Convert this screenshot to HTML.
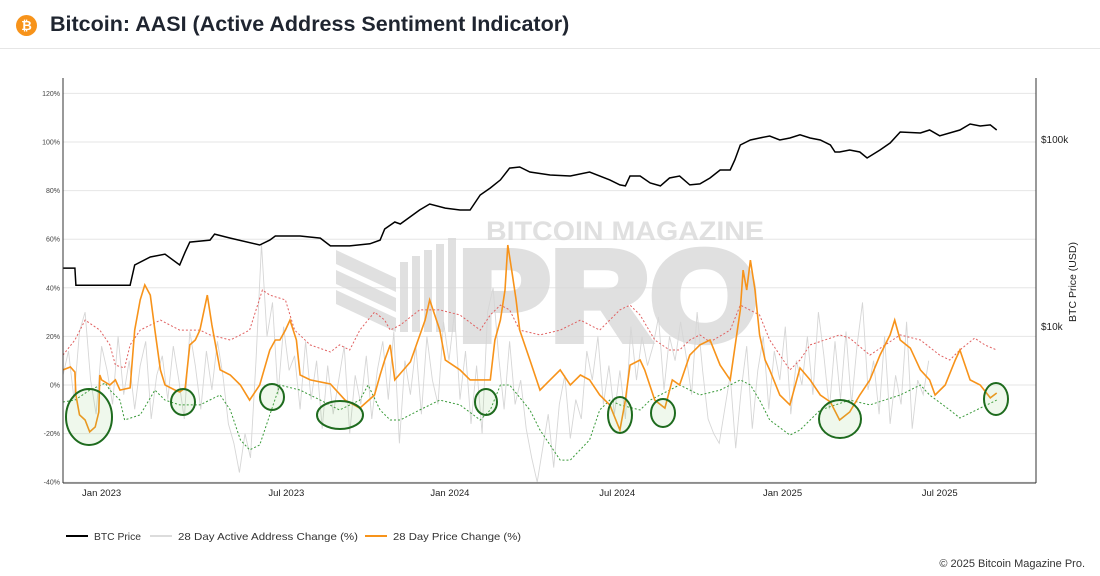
<!DOCTYPE html>
<html><head><meta charset="utf-8"><style>
body{margin:0;width:1100px;height:576px;background:#fff;font-family:"Liberation Sans",sans-serif;overflow:hidden;position:relative}
#hdr{position:absolute;left:0;top:0;width:1100px;height:48px;border-bottom:1px solid #e6e6e6}
#title{position:absolute;left:50px;top:12px;font-size:21.5px;font-weight:bold;color:#1f2530}
#logo{position:absolute;left:16px;top:15px;width:21px;height:21px;border-radius:50%;background:#f7931a;color:#fff;font-size:13px;font-weight:bold;text-align:center;line-height:21px}
svg{position:absolute;left:0;top:0}
</style></head><body>
<div id="hdr">
<div id="logo">₿</div>
<div id="title">Bitcoin: AASI (Active Address Sentiment Indicator)</div>
</div>
<svg id="chart" width="1100" height="576"></svg>
<script>
// ---- data (day offset from chart start, value) ----
const priceDays=[0,13,14,73,78,95,111,127,133,138,160,165,182,214,225,231,247,258,280,291,312,334,345,350,361,367,388,399,416,432,443,454,465,476,486,497,508,530,552,573,595,606,612,617,628,639,650,660,671,682,693,704,715,726,731,737,748,758,769,780,791,802,813,824,835,840,845,856,867,875,889,900,911,933,943,954,976,987,998,1009,1016];
const priceVals=[20.4,20.4,16.5,16.5,21.2,23.4,24.2,21.2,24.9,28.1,28.8,31.0,29.5,27.1,28.8,30.3,30.3,30.3,29.5,26.8,26.8,27.5,28.8,33.0,36.0,35.1,41.7,44.9,42.7,41.7,41.7,50.2,54.7,60.4,69.9,70.8,66.6,64.2,63.4,66.6,60.4,56.8,56.1,63.4,63.4,58.2,56.1,61.9,63.4,56.8,57.5,61.9,68.3,68.3,77.2,92.9,98.8,101.2,103.8,98.8,101.2,105.3,101.2,98.8,92.9,85.2,85.2,87.3,85.2,79.1,87.3,95.2,109,107.7,111.7,104,111.7,120.3,117.4,119,111.7];
const pcDays=[0,8,13,14,18,24,29,35,39,40,42,51,57,62,73,78,84,89,95,100,106,111,122,127,133,138,144,149,157,162,171,182,193,203,214,225,231,236,242,247,254,258,269,291,307,323,339,345,350,356,361,378,394,399,410,416,432,443,465,470,476,481,484,489,493,497,508,519,530,541,552,563,573,584,595,606,612,617,628,633,644,655,663,671,682,693,704,715,726,737,740,744,748,753,758,764,769,780,791,802,813,824,835,845,856,867,878,889,900,905,911,922,933,943,949,960,971,976,987,998,1009,1016];
const pcVals=[6.2,7.4,5.3,-4.1,-12.3,-14.4,-19.3,-17.3,-11.1,4.1,2.1,0,2.1,-2.1,-1.2,22.6,35,41.2,37,22.6,6.2,0,-2.1,-2.9,-1.2,16.5,18.5,22.6,37,24.7,6.2,4.1,0,-6.2,0,14.4,18.5,18.5,22.6,26.7,18.5,4.1,2.1,0.4,-6.2,-9.5,-4.1,4.1,10.3,16.5,2.1,9.5,26.7,35,22.6,10.3,6.2,2.1,2.1,18.5,26.7,39.1,57.6,45.3,35,22.6,10.3,-2.1,2.1,6.2,0,4.1,2.1,-4.1,-8.2,-18.5,-6.2,8.2,10.3,6.2,-6.2,-9.5,2.1,0,12.3,16.5,18.5,8.2,2.1,30.9,47.3,39.1,51.4,39.1,20.6,10.3,6.2,-4.1,-8.2,7,2.1,-4.1,-7,-14.4,-11.1,-4.1,2.1,12.3,20.6,26.7,18.5,15.2,6.2,2.1,-4.1,0,10.3,14.4,2.1,0,-5.3,-3.3];
const upDays=[0,13,24,40,51,57,67,73,84,106,127,149,160,182,193,203,217,225,242,252,269,291,301,312,323,339,350,356,367,388,410,432,454,465,476,486,497,519,541,563,584,606,617,628,644,660,671,682,693,704,726,737,758,769,791,802,813,835,845,856,878,911,933,954,965,976,992,1003,1016];
const upVals=[12.3,18.5,26.7,22.6,16.5,8.2,7,16.5,22.6,26.7,22.6,22.6,20.6,18.5,20.6,22.6,39.1,37,35,22.6,16.5,13.6,16.5,14.4,22.6,30,26.7,22.6,24.7,30.9,30.9,28.8,22.6,28.8,32.9,30.9,22.6,20.6,22.6,26.7,22.6,30.9,32.9,28.8,18.5,14.4,14.4,18.5,20.6,17.7,22.6,32.9,28.8,18.5,6.2,10.3,16.5,19.3,20.6,19.3,12.3,20.6,18.5,12.3,10.3,14.4,19.3,16.5,14.4];
const loDays=[0,13,29,46,51,62,67,84,100,111,127,149,171,182,193,203,214,225,236,258,280,301,323,332,345,356,367,388,410,432,454,465,476,486,508,519,541,552,573,584,595,606,628,639,660,671,693,715,737,748,758,769,791,802,824,856,878,911,933,943,965,976,998,1016];
const loVals=[-7,-6.2,-2.1,0.8,-2.1,-6.2,-14.4,-12.3,-2.1,-6.2,-8.2,-8.2,-4.1,-10.3,-22.6,-26.7,-24.7,-12.3,0,-2.1,-6.2,-10.3,-6.2,0,-10.3,-14.4,-14.4,-10.3,-6.2,-8.2,-14.4,-10.3,0,0,-10.3,-18.5,-30.9,-30.9,-22.6,-10.3,-6.2,-8.2,-10.3,-6.2,-2.1,0,-4.1,-2.1,2.1,0,-6.2,-14.4,-20.6,-18.5,-10.3,-6.2,-8.2,-4.1,0,-4.1,-10.3,-13.6,-9.5,-6.2];
// active address change, one value every 6 days from day 0
const aaVals=[4,14,-6,22,30,2,-12,16,6,-8,20,-4,10,-10,8,18,-14,4,12,-6,16,2,-14,22,8,-10,14,-2,18,4,-16,-24,-36,-20,-30,10,58,20,34,-4,24,6,12,-10,18,-6,10,-18,8,-12,2,16,-20,4,-8,12,-14,6,18,-6,22,-24,10,-4,16,-12,20,2,-8,26,10,30,-6,14,-16,8,-20,30,40,12,-10,18,-8,2,-18,-30,-40,-26,-12,-34,-8,4,-22,-6,-14,14,2,20,-8,8,-12,6,-14,24,2,20,8,16,28,-2,20,10,26,12,-4,30,6,-14,-20,-24,-10,4,-26,-2,16,-18,6,20,-10,14,2,24,-12,10,0,20,-4,30,12,-10,18,-6,22,-8,16,34,-2,10,-12,20,-16,4,-8,26,-18,2,-4,10];
const aaStep=6;
const leftTicks=[120,100,80,60,40,20,0,-20,-40];
const rightTicks=[["$100k",100000],["$10k",10000]];
const xTickLabels=["Jan 2023","Jul 2023","Jan 2024","Jul 2024","Jan 2025","Jul 2025"];
const xTickDays=[42,243,421,603,783,954];

// ---- axes ----
const X0=63,X1=1036,Y0=78,Y1=483;
const xS=d=>X0+d*0.919;
const yL=v=>385-v*2.43;
const yR=p=>139+(5-Math.log10(p))*187;
const svg=document.getElementById('chart');
const NS='http://www.w3.org/2000/svg';
function mk(t,a,parent){const e=document.createElementNS(NS,t);for(const k in a)e.setAttribute(k,a[k]);(parent||svg).appendChild(e);return e;}

leftTicks.forEach(v=>{
  const g=mk('line',{x1:X0,x2:X1,y1:yL(v),y2:yL(v),stroke:'#e6e6e6','stroke-width':1});
  
  
  const t=mk('text',{x:60,y:yL(v)+2.5,'font-size':7,'text-anchor':'end',fill:'#444'});
  t.textContent=v+'%';
  
  
});
rightTicks.forEach(r=>{
  const t=mk('text',{x:1041,y:yR(r[1])+4,'font-size':10,fill:'#222'});
  t.textContent=r[0];
  
  
});
xTickLabels.forEach((l,i)=>{
  const t=mk('text',{x:xS(xTickDays[i]),y:496,'font-size':9.5,'text-anchor':'middle',fill:'#222'});
  t.textContent=l;
  
  
});

// watermark
const wm=mk('g',{fill:'#d9d9d9',opacity:0.8});


[0,20,40].forEach(o=>mk('polygon',{points:`336,${250+o} 396,${278+o} 396,${292+o} 336,${264+o}`},wm));
[400,412,424,436,448].forEach((x,i)=>mk('rect',{x:x,y:262-i*6,width:8,height:70+i*6},wm));
const wt1=mk('text',{x:486,y:240,'font-size':27,'font-weight':'bold',textLength:278,lengthAdjust:'spacingAndGlyphs'},wm);wt1.textContent='BITCOIN MAGAZINE';
const wt2=mk('text',{x:458,y:340,'font-size':128,'font-weight':'bold',textLength:300,lengthAdjust:'spacingAndGlyphs',stroke:'#d9d9d9','stroke-width':8},wm);wt2.textContent='PRO';

function path(days,vals,fx,attrs,name){
  let d='';days.forEach((dd,i)=>{d+=(i?'L':'M')+xS(dd).toFixed(1)+','+fx(vals[i]).toFixed(1);});
  const p=mk('path',Object.assign({d:d,fill:'none'},attrs));
  
  
  return p;
}
const aaDays=aaVals.map((v,i)=>i*aaStep);
path(aaDays,aaVals,yL,{stroke:'#d6d6d6','stroke-width':0.9},'active-address-change-line');
path(upDays,upVals,yL,{stroke:'#e06060','stroke-width':1,'stroke-dasharray':'2,2'},'upper-band-line');
path(loDays,loVals,yL,{stroke:'#3a9a3a','stroke-width':1,'stroke-dasharray':'2,2'},'lower-band-line');
path(pcDays,pcVals,yL,{stroke:'#f7931a','stroke-width':1.6},'price-change-line');
path(priceDays,priceVals.map(v=>v*1000),yR,{stroke:'#000','stroke-width':1.5},'btc-price-line');

[[89,417,23,28],[183,402,12,13],[272,397,12,13],[340,415,23,14],[486,402,11,13],[620,415,12,18],[663,413,12,14],[840,419,21,19],[996,399,12,16]].forEach(e=>{
  const c=mk('ellipse',{cx:e[0],cy:e[1],rx:e[2],ry:e[3],fill:'rgba(120,200,100,0.12)',stroke:'#1e6b1e','stroke-width':2});
  
  
});

mk('line',{x1:X0,x2:X0,y1:Y0,y2:Y1,stroke:'#333','stroke-width':1});
mk('line',{x1:X0,x2:X1,y1:Y1,y2:Y1,stroke:'#333','stroke-width':1});
mk('line',{x1:X1,x2:X1,y1:Y0,y2:Y1,stroke:'#333','stroke-width':1});
const yt=mk('text',{x:0,y:0,'font-size':10.5,'text-anchor':'middle',fill:'#222',transform:'translate(1076,282) rotate(-90)'});
yt.textContent='BTC Price (USD)';



[[66,'#000','BTC Price','legend-btc-price',47],[150,'#dcdcdc','28 Day Active Address Change (%)','legend-active-address',180],[365,'#f7931a','28 Day Price Change (%)','legend-price-change',128]].forEach(l=>{
  const g=mk('g',{});
  
  
  mk('line',{x1:l[0],x2:l[0]+22,y1:536,y2:536,stroke:l[1],'stroke-width':2},g);
  const t=mk('text',{x:l[0]+28,y:540,'font-size':10.5,fill:'#333',textLength:l[4],lengthAdjust:'spacingAndGlyphs'},g);t.textContent=l[2];
});
const ft=mk('text',{x:1085,y:567,'font-size':11,'text-anchor':'end',fill:'#333'});
ft.textContent='© 2025 Bitcoin Magazine Pro.';


</script>
</body></html>
